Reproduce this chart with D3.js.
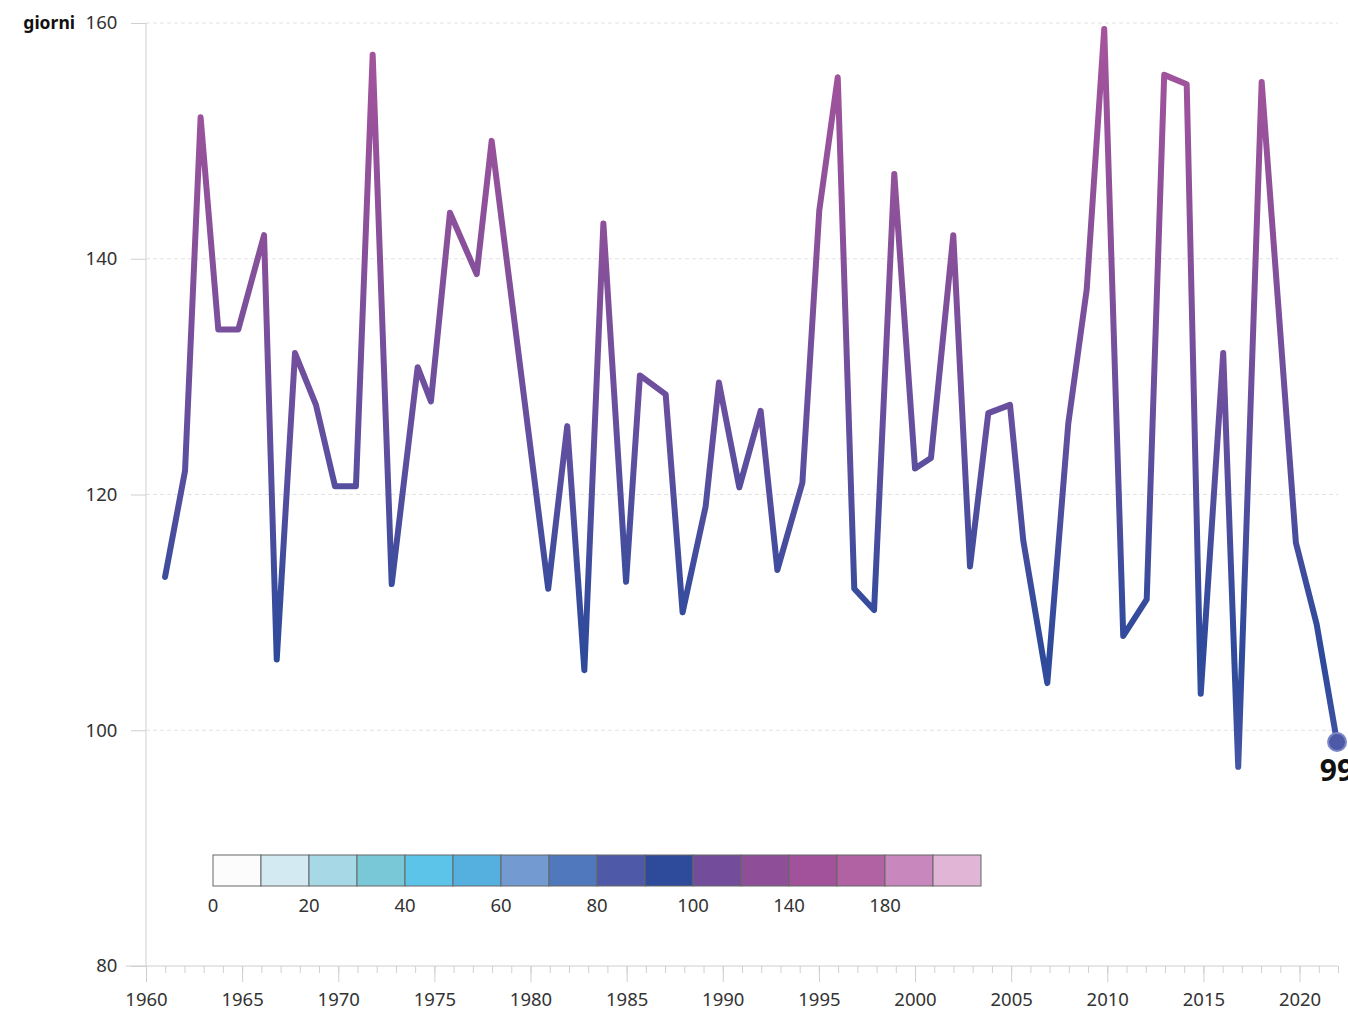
<!DOCTYPE html>
<html>
<head>
<meta charset="utf-8">
<script src="https://cdn.jsdelivr.net/npm/d3@7"></script>
<style>
    body { margin: 0; background: #fff; }
    #chart text { font-family: "Noto Sans", "Open Sans", sans-serif; }
</style>
</head>
<body>
<div id="chart"></div>
<script>

// data: days per year; points sit at a date inside each year (fractional year)
var years = [1961,1962,1963,1964,1965,1966,1967,1968,1969,1970,
    1971,1972,1973,1974,1975,1976,1977,1978,1979,1980,
    1981,1982,1983,1984,1985,1986,1987,1988,1989,1990,
    1991,1992,1993,1994,1995,1996,1997,1998,1999,2000,
    2001,2002,2003,2004,2005,2006,2007,2008,2009,2010,
    2011,2012,2013,2014,2015,2016,2017,2018,2019,2020,
    2021,2022];
var datePos = [1960.99,1962.03,1962.84,1963.76,1964.80,1966.14,1966.80,1967.75,1968.84,1969.83,
    1970.92,1971.79,1972.78,1974.13,1974.82,1975.81,1977.20,1977.98,1978.90,1979.90,
    1980.92,1981.91,1982.80,1983.79,1984.97,1985.69,1987.03,1987.91,1989.11,1989.80,
    1990.86,1991.97,1992.84,1994.14,1995.02,1995.98,1996.84,1997.87,1998.92,2000.00,
    2000.83,2001.99,2002.86,2003.81,2004.94,2005.63,2006.88,2007.97,2008.93,2009.84,
    2010.83,2012.05,2012.96,2014.13,2014.86,2016.03,2016.81,2018.03,2018.90,2019.81,
    2020.89,2021.95];
var days = [113,122,152,134,134,142,106,132,127.6,120.7,
    120.7,157.3,112.4,130.8,127.9,143.9,138.7,150,138.1,125.2,
    112,125.8,105.1,143,112.6,130.1,128.5,110,119,129.5,
    120.6,127.1,113.6,121,144.1,155.4,112,110.2,147.2,122.2,
    123.1,142,113.9,126.9,127.6,116.1,104,126,137.4,159.5,
    108,111.1,155.6,154.8,103.1,132,96.9,155,135.9,115.9,
    109,99];

var yTicks = [80,100,120,140,160];
var xTicks = [1960,1965,1970,1975,1980,1985,1990,1995,2000,2005,2010,2015,2020];

// legend
var legendBreaks = [0,10,20,30,40,50,60,70,80,90,100,120,140,160,180,200,220];
var legendColors = ["#fcfcfd","#d3eaf2","#a6d8e5","#78c8d8","#5cc4e8","#55b0e0","#739bd1","#4f78bd",
    "#4e5aa8","#2e4a9b","#744c9c","#8e4e98","#a2529b","#b062a3","#c888bd","#e0b5d6"];
var legendLabels = [0,20,40,60,80,100,140,180];

// line gradient (value -> colour)
var gradValues = [95,101,106,112,125,140,160];
var gradColors = ["#4b59a8","#3a4fa0","#2e4a9b","#3a4c9d","#634f9f","#87509a","#a6549c"];

var fontSize = 18.5;

var data = years.map((y, i) => ({year: y, pos: datePos[i], value: days[i]}));

var vis = {};
vis.width = 1348;
vis.height = 1012;

vis.svg = d3.select("#chart").append("svg")
    .attr("width", vis.width)
    .attr("height", vis.height);

// scales
vis.x = d3.scaleLinear().domain([1960, 2022]).range([146, 1338]);
vis.y = d3.scaleLinear().domain([80, 160]).range([966, 23]);

// gridlines
vis.svg.append("g")
    .selectAll("line")
    .data(yTicks.filter(d => d > 80))
    .enter().append("line")
    .attr("x1", vis.x(1960))
    .attr("x2", vis.x(2022))
    .attr("y1", d => vis.y(d))
    .attr("y2", d => vis.y(d))
    .attr("stroke", "#e2e2e2")
    .attr("stroke-dasharray", "4,3");

// y axis
var yAxis = d3.axisLeft(vis.y)
    .tickValues(yTicks)
    .tickSize(15)
    .tickPadding(10);

vis.svg.append("g")
    .attr("class", "y-axis")
    .attr("transform", "translate(" + vis.x(1960) + ",0)")
    .call(yAxis)
    .call(g => g.select(".domain").attr("stroke", "#cfcfcf").attr("d", "M0," + vis.y(160) + "V" + vis.y(80)))
    .call(g => g.selectAll(".tick line").attr("stroke", "#cfcfcf"))
    .call(g => g.selectAll(".tick text")
        .attr("fill", "#333")
        .attr("font-size", fontSize)
        .attr("dx", "-0.2em"));

vis.svg.append("text")
    .text("giorni")
    .attr("x", 75)
    .attr("y", vis.y(160))
    .attr("dy", "0.35em")
    .attr("text-anchor", "end")
    .attr("font-size", 17.5)
    .attr("font-weight", "bold")
    .attr("fill", "#111");

// x axis: minor ticks every year, major every 5
var xMinor = d3.axisBottom(vis.x)
    .tickValues(d3.range(1960, 2023))
    .tickSize(7)
    .tickFormat("");

vis.svg.append("g")
    .attr("transform", "translate(0," + vis.y(80) + ")")
    .call(xMinor)
    .call(g => g.select(".domain").remove())
    .call(g => g.selectAll(".tick line").attr("stroke", "#cfcfcf"));

var xAxis = d3.axisBottom(vis.x)
    .tickValues(xTicks)
    .tickSize(16)
    .tickPadding(11)
    .tickFormat(d3.format("d"));

vis.svg.append("g")
    .attr("class", "x-axis")
    .attr("transform", "translate(0," + vis.y(80) + ")")
    .call(xAxis)
    .call(g => g.select(".domain").attr("stroke", "#cfcfcf").attr("d", "M126,0H" + vis.x(2022)))
    .call(g => g.selectAll(".tick line").attr("stroke", "#cfcfcf"))
    .call(g => g.selectAll(".tick text")
        .attr("fill", "#333")
        .attr("font-size", fontSize));

// legend
vis.legendX = d3.scaleLinear().domain([0, 100, 220]).range([213, 693, 981]);

var legend = vis.svg.append("g").attr("class", "legend");

legend.selectAll("rect")
    .data(legendColors)
    .enter().append("rect")
    .attr("x", (d, i) => vis.legendX(legendBreaks[i]))
    .attr("width", (d, i) => vis.legendX(legendBreaks[i + 1]) - vis.legendX(legendBreaks[i]))
    .attr("y", 855)
    .attr("height", 31)
    .attr("fill", d => d)
    .attr("stroke", "#666")
    .attr("stroke-width", 1);

legend.selectAll("text")
    .data(legendLabels)
    .enter().append("text")
    .text(d => d)
    .attr("x", d => vis.legendX(d))
    .attr("y", 906)
    .attr("dy", "0.35em")
    .attr("text-anchor", "middle")
    .attr("font-size", fontSize)
    .attr("fill", "#333");

// gradient for the line
var grad = vis.svg.append("defs").append("linearGradient")
    .attr("id", "lineGrad")
    .attr("gradientUnits", "userSpaceOnUse")
    .attr("x1", 0).attr("x2", 0)
    .attr("y1", vis.y(gradValues[0]))
    .attr("y2", vis.y(gradValues[gradValues.length - 1]));

var gradPos = d3.scaleLinear()
    .domain([gradValues[0], gradValues[gradValues.length - 1]])
    .range([0, 1]);

grad.selectAll("stop")
    .data(gradValues)
    .enter().append("stop")
    .attr("offset", d => gradPos(d))
    .attr("stop-color", (d, i) => gradColors[i]);

// line
var line = d3.line()
    .x(d => vis.x(d.pos))
    .y(d => vis.y(d.value));

vis.svg.append("path")
    .datum(data)
    .attr("d", line)
    .attr("fill", "none")
    .attr("stroke", "url(#lineGrad)")
    .attr("stroke-width", 6)
    .attr("stroke-linejoin", "round")
    .attr("stroke-linecap", "round");

// last value
var last = data[data.length - 1];

vis.svg.append("circle")
    .attr("cx", vis.x(last.pos))
    .attr("cy", vis.y(last.value))
    .attr("r", 9)
    .attr("fill", "#4d5aa8")
    .attr("stroke", "#7c87c6")
    .attr("stroke-width", 2);

vis.svg.append("text")
    .text(last.value)
    .attr("x", vis.x(last.pos))
    .attr("y", vis.y(last.value) + 39)
    .attr("text-anchor", "middle")
    .attr("font-size", 30)
    .attr("font-weight", "bold")
    .attr("fill", "#111");

</script>
</body>
</html>
